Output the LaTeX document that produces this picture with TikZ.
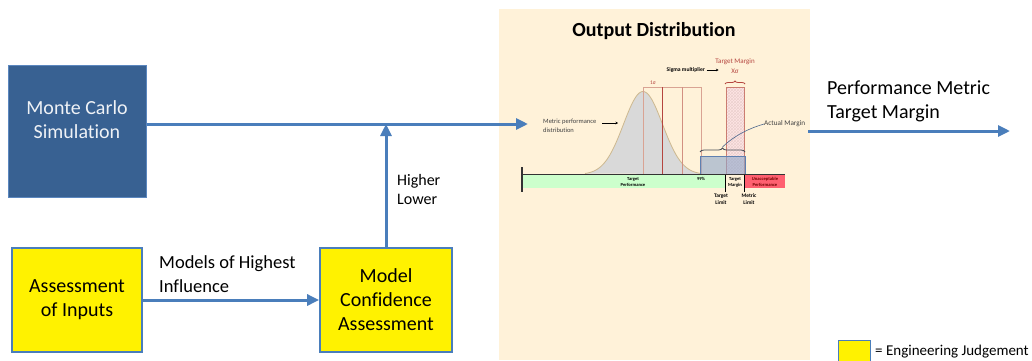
\documentclass[tikz,border=0pt]{standalone}
\usepackage{fontspec}
\setmainfont{Carlito}[Ligatures=NoCommon]
\usetikzlibrary{arrows.meta,patterns,decorations.pathreplacing}
\definecolor{flow}{HTML}{4A7EBB}
\definecolor{mcfill}{HTML}{386192}
\definecolor{mcedge}{HTML}{5B87BF}
\definecolor{panel}{HTML}{FFF2D9}
\definecolor{curvefill}{HTML}{D9D9D9}
\definecolor{curveedge}{HTML}{CDB88F}
\definecolor{sigred}{HTML}{B5453F}
\definecolor{siglight}{HTML}{D9A393}
\definecolor{goodband}{HTML}{CCFFCC}
\definecolor{badband}{HTML}{FF6070}
\definecolor{marginbox}{HTML}{8FA8CB}
\definecolor{marginedge}{HTML}{5F80B0}
\definecolor{note}{HTML}{404040}
\tikzset{
  flowarrow/.style={draw=flow, line width=3pt, -{Triangle[length=12pt,width=11pt]}},
  yellowbox/.style={draw=flow, line width=1.8pt, fill=yellow, minimum width=130pt,
    minimum height=104pt, inner sep=0pt, align=center, font=\fontsize{20}{24}\selectfont},
  tiny/.style={inner sep=0pt, align=center, font=\fontsize{4.6}{6}\selectfont\bfseries},
  label/.style={inner sep=0pt, align=left, anchor=north west},
}
\begin{document}
\begin{tikzpicture}[x=1pt,y=-1pt]
\useasboundingbox (0,0) rectangle (1032,360);

% background panel of the output distribution
\fill[panel] (499,9) rectangle (810,360);
\node[font=\fontsize{20}{24}\selectfont\bfseries, inner sep=0pt, anchor=base] (title) at (654,36) {Output Distribution};

% process boxes
\node[draw=mcedge, line width=1pt, fill=mcfill, minimum width=138pt, minimum height=132pt,
  inner sep=0pt, anchor=north] (mc) at (77,65) {};
\node[text=white!92!mcfill, align=center, inner sep=0pt, font=\fontsize{20}{24}\selectfont] (mctext) at (77,120) {Monte Carlo\\Simulation};
\node[yellowbox] (ai) at (77,300) {Assessment\\of Inputs};
\node[yellowbox, minimum width=132pt] (mca) at (386,300) {Model\\Confidence\\Assessment};

% connectors
\coordinate (join) at (386,124);
\coordinate (distin) at (528,124);
\coordinate (distout) at (808,131);
\coordinate (result) at (1010,131);
\draw[flowarrow] (mc.east |- distin) -- (distin);
\draw[flowarrow] (mca.north) -- (join);
\draw[flowarrow] (ai.east) -- (mca.west);
\draw[flowarrow] (distout) -- (result);

% connector labels
\node[label, font=\fontsize{18.5}{24}\selectfont] (lblmodels) at (159,255) {Models of Highest\\Influence};
\node[label, font=\fontsize{16}{19}\selectfont] (lblconf) at (397,174) {Higher\\Lower};
\node[label, font=\fontsize{20}{24}\selectfont] (lblmetric) at (827,81) {Performance Metric\\Target Margin};

% legend
\node[draw=flow, line width=1.2pt, fill=yellow, minimum width=32pt, minimum height=22pt,
  inner sep=0pt, anchor=north west] (legbox) at (838,340) {};
\node[inner sep=0pt, anchor=base west, font=\fontsize{15}{18}\selectfont] (legtext) at (875,355) {= Engineering Judgement};

% ---- distribution chart ----
% performance bands
\fill[goodband] (522,174.5) rectangle (725,188);
\fill[badband] (745,174.5) rectangle (785,188);

% metric distribution curve
\fill[curvefill] plot[domain=585:706, samples=80, smooth] (\x,{174.5-83*exp(-((\x-643)^2)/760.5)}) -- cycle;
\draw[curveedge, line width=0.8pt] plot[domain=585:700, samples=80, smooth] (\x,{174.5-83*exp(-((\x-643)^2)/760.5)});

% sigma intervals
\draw[siglight, line width=0.9pt] (643,174.5) -- (643,87) -- (701,87) -- (701,174.5);
\draw[sigred, line width=0.9pt] (662,87) -- (662,174.5);
\draw[siglight!80!sigred, line width=0.9pt] (682,87) -- (682,174.5);
\node[text=sigred, inner sep=0pt, font=\fontsize{5.5}{6}\selectfont] (onesig) at (653,83) {1σ};

% target margin (hatched)
\fill[red!10] (726,87) rectangle (744,174.5);
\fill[pattern=crosshatch, pattern color=sigred!25] (726,87) rectangle (744,174.5);
\draw[siglight!60!sigred, line width=0.9pt] (726,87) rectangle (744,174.5);
\draw[sigred, line width=0.8pt, decorate, decoration={brace, amplitude=3pt}] (725,84) -- (745,84);
\node[text=sigred, inner sep=0pt, font=\fontsize{7}{8}\selectfont] (tmtop) at (735,62) {Target Margin};
\node[text=sigred, inner sep=0pt, font=\fontsize{7}{8}\selectfont] (xsig) at (735,71) {Xσ};
\node[inner sep=0pt, anchor=east, font=\fontsize{5.6}{6}\selectfont\bfseries] (sigmult) at (705,70) {Sigma multiplier};
\draw[-{Stealth[length=2.5pt,width=2.5pt]}, line width=0.5pt] (sigmult.east) ++(1.5,0) -- ++(12,0);

% actual margin
\fill[marginbox, opacity=0.6] (700,156) rectangle (745,174.5);
\draw[marginedge, line width=0.8pt] (700,174.5) -- (700,156) -- (745,156) -- (745,174.5);
\draw[note!80!marginedge, line width=0.8pt, decorate, decoration={brace, amplitude=4pt}] (700,152) -- (745,152);
\coordinate (bracetip) at (722.5,147);
\node[text=note, inner sep=0pt, anchor=west, font=\fontsize{7.2}{8}\selectfont] (actual) at (764,124) {Actual Margin};
\draw[marginedge!80!black, line width=0.6pt] (bracetip) .. controls (735,135) and (750,128) .. (actual.west);

% curve annotation
\node[text=note, inner sep=0pt, align=left, anchor=north west, font=\fontsize{6.5}{8.5}\selectfont] (curvenote) at (543,119) {Metric performance\\distribution};
\draw[-{Stealth[length=2.5pt,width=2.5pt]}, line width=0.6pt] (602,123) -- (618,123);

% axis and limits
\draw[note!80!black, line width=1.1pt] (522,174.5) -- (785,174.5);
\draw[note!80!black, line width=1.1pt] (522,167) -- (522,192);
\draw[black, line width=0.9pt] (725,174.5) -- (725,192);
\draw[black, line width=0.9pt] (744.5,174.5) -- (744.5,192);

% band labels
\node[tiny] (tperf) at (633,182) {Target\\Performance};
\node[tiny] (p99) at (701,179) {99\%};
\node[tiny] (tmarg) at (735,182) {Target\\Margin};
\node[tiny, text=red!45!black] (unacc) at (765,182) {Unacceptable\\Performance};
\node[tiny, font=\fontsize{5.4}{7}\selectfont\bfseries] (tlimit) at (721,199.5) {Target\\Limit};
\node[tiny, font=\fontsize{5.4}{7}\selectfont\bfseries] (mlimit) at (749,199.5) {Metric\\Limit};
\end{tikzpicture}
\end{document}
